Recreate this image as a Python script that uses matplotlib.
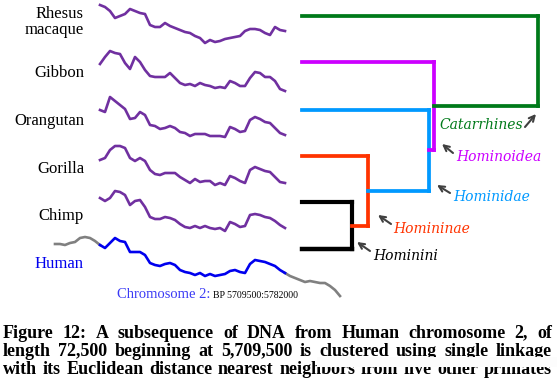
import numpy as np
import matplotlib.pyplot as plt
from matplotlib.patches import Rectangle

plt.rcParams['font.family'] = ['Liberation Serif', 'DejaVu Serif']

# -----------------------------
# Data (curve depth below each row's top)
# -----------------------------
species = ['Rhesus\nmacaque', 'Gibbon', 'Orangutan', 'Gorilla', 'Chimp', 'Human']

rhesus = [5, 7, 11, 18, 16, 14, 9, 11, 13, 14, 25, 27, 27, 23, 26, 28, 30, 32, 33,
          36, 38, 43, 40, 42, 41, 39, 38, 37, 36, 31, 29, 29, 30, 33, 35, 27, 30, 31]
gibbon = [18, 11, 5, 7, 8, 17, 23, 11, 16, 24, 30, 31, 31, 31, 27, 32, 37, 39, 38,
          40, 37, 39, 40, 42, 41, 42, 35, 37, 40, 40, 32, 26, 27, 31, 31, 35, 43, 45]
orangutan = [18, 20, 5, 9, 13, 17, 27, 26, 20, 23, 33, 34, 37, 36, 34, 36, 40, 41, 44,
             42, 42, 42, 44, 44, 44, 45, 35, 37, 40, 39, 28, 25, 27, 30, 31, 36, 41, 43]
gorilla = [21, 19, 11, 7, 7, 9, 19, 22, 19, 22, 31, 35, 36, 34, 34, 34, 38, 41, 44,
           40, 43, 42, 42, 46, 44, 46, 37, 39, 42, 44, 31, 28, 30, 32, 33, 38, 43, 44]
chimp = [12, 15, 12, 5, 6, 9, 19, 15, 14, 21, 31, 33, 33, 31, 32, 34, 38, 41, 42,
         40, 42, 40, 42, 43, 42, 45, 36, 38, 41, 40, 29, 28, 29, 31, 32, 35, 39, 42]
human = [13, 16, 11, 6, 9, 10, 20, 20, 20, 23, 31, 33, 34, 32, 31, 33, 38, 40, 41,
         43, 41, 44, 42, 44, 43, 42, 39, 38, 40, 41, 32, 28, 29, 30, 32, 34, 38, 41]
# grey context before / after the human subsequence
human_before = [12, 12, 13, 11, 10, 6, 5, 6, 9, 13]
human_after = [41, 44, 46, 48, 50, 49, 50, 51, 51, 54, 58, 64]

# single linkage merge distances (relative) and clade names
merge_dist = [0.21, 0.28, 0.54, 0.56, 1.0]
clades = ['Hominini', 'Homininae', 'Hominidae', 'Hominoidea', 'Catarrhines']
clade_colors = ['black', '#ff3300', '#0099ff', '#cc00ff', '#007a1a']

# -----------------------------
# Layout
# -----------------------------
W, H = 557, 384
fig = plt.figure(figsize=(W / 100, H / 100), dpi=100, facecolor='white')
ax = fig.add_axes([0, 0, 1, 1])
ax.set_xlim(0, W)
ax.set_ylim(H, 0)
ax.axis('off')

row_top = [0, 46, 92, 139, 186, 232]
leaf_y = [16, 62, 110, 156, 202, 249]
label_y = [22, 73, 121, 169, 216, 264]

x_main = np.arange(100, 290, 5)
x_before = np.arange(55, 105, 5)
x_after = np.arange(285, 345, 5)

purple = '#7030a0'
series = [rhesus, gibbon, orangutan, gorilla, chimp]
for i, s in enumerate(series):
    ax.plot(x_main, np.array(s) + row_top[i], color=purple, lw=1.9,
            solid_joinstyle='round')

ax.plot(x_before, np.array(human_before) + row_top[5], color='gray', lw=1.9)
ax.plot(x_after, np.array(human_after) + row_top[5], color='gray', lw=1.9)
ax.plot(x_main, np.array(human) + row_top[5], color='#0000ee', lw=1.9)

for i, name in enumerate(species):
    ax.text(84, label_y[i], name, ha='right', va='center', fontsize=12,
            color='#0000ee' if name == 'Human' else 'black',
            multialignment='right', linespacing=1.05)

renderer = fig.canvas.get_renderer()
chrom = ax.text(117, 298, 'Chromosome 2:', color='#3a3af5', fontsize=10.5,
                va='baseline')
chrom_end = ax.transData.inverted().transform(
    chrom.get_window_extent(renderer))[1][0]
ax.text(chrom_end + 3, 298, 'BP 5709500:5782000', color='black', fontsize=7,
        va='baseline')

# -----------------------------
# Dendrogram (leaves: Chimp+Human first, then Gorilla, Orangutan, Gibbon, Rhesus)
# -----------------------------
axd = fig.add_axes([302 / W, 0, 236 / W, 1])
axd.set_xlim(0, 1)
axd.set_ylim(H, 0)
axd.axis('off')

lw = 2.7
# Hominini
d = merge_dist[0]
c = clade_colors[0]
axd.plot([0, d], [leaf_y[4], leaf_y[4]], color=c, lw=lw + 0.3, clip_on=False)
axd.plot([0, d], [leaf_y[5], leaf_y[5]], color=c, lw=lw + 0.5, clip_on=False)
axd.plot([d, d], [leaf_y[4], leaf_y[5]], color=c, lw=lw + 0.3, clip_on=False)
node_y = (leaf_y[4] + leaf_y[5]) / 2
prev_d = d
for k, leaf in zip(range(1, 5), [3, 2, 1, 0]):
    d = merge_dist[k]
    c = clade_colors[k]
    axd.plot([0, d], [leaf_y[leaf], leaf_y[leaf]], color=c, lw=lw, clip_on=False)
    axd.plot([prev_d, d], [node_y, node_y], color=c, lw=lw, clip_on=False)
    axd.plot([d, d], [leaf_y[leaf], node_y], color=c, lw=lw, clip_on=False)
    node_y = (leaf_y[leaf] + node_y) / 2
    prev_d = d

# clade labels with arrows
label_pos = [(373, 256), (393, 229), (453, 197), (456, 157), (439, 125)]
arrow_tip = [(357, 242), (378, 215), (437, 185), (442, 144), (536, 114)]
arrow_tail = [(370, 251), (391, 224), (450, 193), (453, 153), (525, 127)]
for k, name in enumerate(clades):
    ax.text(label_pos[k][0], label_pos[k][1], name, family='DejaVu Serif',
            style='italic', fontsize=10, color=clade_colors[k], va='center',
            ha='left')
    ax.annotate('', xy=arrow_tip[k], xytext=arrow_tail[k],
                arrowprops=dict(arrowstyle='->', color='#404040', lw=1.5,
                                shrinkA=0, shrinkB=0))

# -----------------------------
# Caption, justified
# -----------------------------
caption = ['Figure 12: A subsequence of DNA from Human chromosome 2, of',
           'length 72,500 beginning at 5,709,500 is clustered using single linkage',
           'with its Euclidean distance nearest neighbors from five other primates']
cap_y = [333, 351, 369]
for line, y in zip(caption, cap_y):
    words = line.split()
    texts = [ax.text(0, y, w, fontsize=13, fontweight='bold', va='center')
             for w in words]
    widths = [t.get_window_extent(renderer).width for t in texts]
    gap = (552 - 3 - sum(widths)) / (len(words) - 1)
    x = 3
    for t, w in zip(texts, widths):
        t.set_x(x)
        x += w + gap

ax.add_patch(Rectangle((317, 357), 240, 9.5, facecolor='#fcfcfc',
                       edgecolor='none', zorder=10))

fig.savefig('out.png', dpi=100, facecolor='white')
